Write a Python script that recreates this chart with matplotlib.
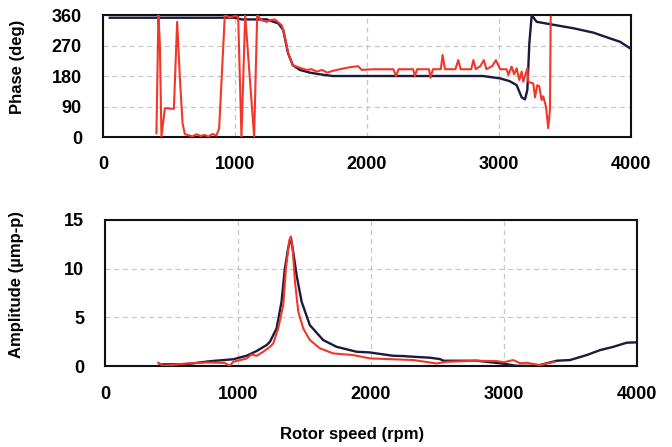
import matplotlib
matplotlib.use("Agg")
import matplotlib.pyplot as plt

plt.rcParams["font.family"] = ["Liberation Sans", "DejaVu Sans"]
plt.rcParams["font.weight"] = "bold"

# Phase, measured (dark)
phase_dark_rpm = [53, 1000, 1050, 1242, 1265, 1330, 1366, 1402, 1439, 1492, 1568, 1644, 1742,
                  2879, 3008, 3080, 3134, 3172, 3197, 3215, 3230, 3248, 3285, 3386, 3563,
                  3715, 3841, 3917, 3992]
phase_dark_deg = [352, 352, 347, 347, 344, 335, 316, 248, 212, 198, 190, 185, 180,
                  180, 173, 165, 153, 117, 111, 139, 276, 360, 340, 333, 321,
                  308, 291, 281, 262]

# Phase, computed (red)
phase_red_rpm = [406, 421, 432, 444, 470, 538, 563, 583, 604, 621, 650, 680, 710, 740, 770,
                 800, 830, 860, 881, 924, 960, 1000, 1025, 1050, 1078, 1146, 1169, 1200,
                 1240, 1265, 1303, 1354, 1379, 1404, 1437, 1480, 1543, 1580, 1620, 1660,
                 1700, 1740, 1795, 1871, 1934, 1960, 2048, 2200, 2220, 2240, 2350, 2364,
                 2380, 2470, 2482, 2500, 2560, 2573, 2591, 2670, 2692, 2710, 2790, 2806,
                 2825, 2860, 2886, 2905, 2950, 2977, 3008, 3058, 3071, 3096, 3115, 3134,
                 3154, 3172, 3184, 3215, 3222, 3260, 3273, 3290, 3305, 3323, 3335, 3356,
                 3373, 3386, 3392]
phase_red_deg = [11, 360, 276, 1, 85, 83, 340, 178, 40, 9, 5, 2, 8, 3, 6,
                 1, 9, 4, 26, 360, 352, 357, 355, 0, 360, 0, 360, 345,
                 340, 345, 347, 330, 296, 247, 212, 206, 198, 200, 193, 198,
                 190, 195, 200, 206, 209, 198, 200, 200, 180, 200, 200, 180,
                 200, 200, 175, 200, 200, 242, 200, 200, 227, 200, 200, 227,
                 200, 210, 227, 200, 210, 227, 200, 200, 183, 208, 185, 203,
                 168, 193, 163, 203, 163, 158, 117, 153, 150, 109, 120, 90,
                 26, 80, 355]

# Amplitude, measured (dark)
amp_dark_rpm = [413, 614, 789, 965, 1065, 1140, 1216, 1241, 1291, 1328, 1353, 1378, 1398,
                1416, 1441, 1479, 1541, 1641, 1742, 1892, 1992, 2093, 2168, 2243, 2318,
                2444, 2519, 2545, 2795, 2983, 3095, 3246, 3396, 3496, 3621, 3722, 3822,
                3922, 3985]
amp_dark = [0.17, 0.2, 0.5, 0.7, 1.06, 1.54, 2.16, 2.5, 3.87, 6.6, 10.0, 12.1, 13.2,
            11.7, 9.35, 6.6, 4.2, 2.67, 1.98, 1.47, 1.4, 1.2, 1.06, 1.03, 0.96,
            0.86, 0.72, 0.55, 0.55, 0.27, 0.03, 0.03, 0.55, 0.62, 1.13, 1.64, 1.98,
            2.4, 2.43]

# Amplitude, computed (red)
amp_red_rpm = [401, 439, 614, 765, 900, 940, 965, 1065, 1103, 1140, 1190, 1241, 1266, 1303,
               1341, 1361, 1386, 1398, 1411, 1429, 1454, 1491, 1541, 1617, 1717, 1867,
               1992, 2318, 2494, 2569, 2795, 2945, 3000, 3070, 3120, 3170, 3271, 3321, 3383]
amp_red = [0.34, 0.03, 0.27, 0.37, 0.33, 0.03, 0.44, 0.78, 1.2, 1.05, 1.47, 1.98, 2.33, 3.87,
           6.27, 10.0, 12.9, 13.3, 12.1, 8.66, 5.58, 3.87, 2.67, 1.82, 1.3, 1.13,
           0.79, 0.62, 0.27, 0.44, 0.55, 0.51, 0.4, 0.62, 0.3, 0.34, 0.1, 0.27, 0.44]

dark = "#1c1a3c"
red = "#f2372a"

fig = plt.figure(figsize=(6.72, 4.47), dpi=100)
ax1 = fig.add_axes([0.153, 0.6935, 0.786, 0.2729])
ax2 = fig.add_axes([0.156, 0.181, 0.792, 0.327])

ax1.plot(phase_dark_rpm, phase_dark_deg, color=dark, lw=1.7, zorder=3)
ax1.plot(phase_red_rpm, phase_red_deg, color=red, lw=1.5, zorder=4)
ax2.plot(amp_dark_rpm, amp_dark, color=dark, lw=1.7, zorder=3)
ax2.plot(amp_red_rpm, amp_red, color=red, lw=1.5, zorder=4)

ax1.set_ylim(0, 360)
ax1.set_yticks([0, 90, 180, 270, 360])
ax2.set_ylim(0, 15)
ax2.set_yticks([0, 5, 10, 15])

for ax in (ax1, ax2):
    ax.set_xlim(0, 4000)
    ax.set_xticks([0, 1000, 2000, 3000, 4000])
    ax.grid(True, color="#c8c8c8", linestyle=(0, (4, 3)), linewidth=0.9)
    ax.set_axisbelow(True)
    ax.tick_params(length=0, labelsize=13)
    ax.tick_params(axis="x", pad=14)
    ax.tick_params(axis="y", pad=15)
    for s in ax.spines.values():
        s.set_linewidth(1.5)
        s.set_color("#111111")

ax1.set_ylabel("Phase (deg)", fontsize=12, fontweight="bold")
ax1.yaxis.set_label_coords(-0.148, 0.576)
ax2.set_ylabel("Amplitude (µmp-p)", fontsize=12, fontweight="bold")
ax2.yaxis.set_label_coords(-0.152, 0.56)
ax2.set_xlabel("Rotor speed (rpm)", fontsize=12, fontweight="bold")
ax2.xaxis.set_label_coords(0.464, -0.47)
ax2.xaxis.label.set_va("center")

fig.savefig("out.png", dpi=100)
